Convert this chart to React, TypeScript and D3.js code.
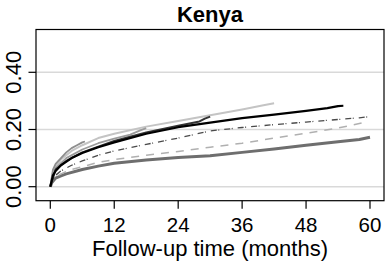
import React from 'react';
import * as d3 from 'd3';

// months since start of follow-up
const xTicks = [0, 12, 24, 36, 48, 60];
const yTicks = [0, 0.2, 0.4];
const yTickLabels = ['0.00', '0.20', '0.40'];

// cumulative incidence curves (month, value)
const lightGrayMonths = [0, 0.5, 1, 2, 4, 6, 9, 12, 18, 24, 30, 36, 40, 42];
const lightGrayValues = [0, 0.05, 0.07, 0.095, 0.125, 0.145, 0.17, 0.185, 0.21, 0.23, 0.25, 0.27, 0.285, 0.292];

const shortGrayMonths = [0, 0.5, 1, 2, 3, 4, 5, 6, 6.5];
const shortGrayValues = [0, 0.06, 0.08, 0.1, 0.12, 0.135, 0.145, 0.155, 0.158];

const midGrayMonths = [0, 1, 3, 6, 9, 12, 15, 17, 18];
const midGrayValues = [0, 0.065, 0.1, 0.13, 0.152, 0.168, 0.182, 0.198, 0.205];

const darkMonths = [0, 1, 3, 6, 12, 18, 24, 28, 29, 30];
const darkValues = [0, 0.06, 0.09, 0.12, 0.16, 0.19, 0.213, 0.228, 0.238, 0.245];

const blackMonths = [0, 0.5, 1, 2, 4, 6, 9, 12, 18, 24, 30, 36, 42, 48, 52, 54, 55];
const blackValues = [0, 0.04, 0.055, 0.075, 0.1, 0.118, 0.138, 0.155, 0.185, 0.208, 0.224, 0.24, 0.252, 0.265, 0.275, 0.282, 0.283];

const dotDashMonths = [0, 0.5, 1, 2, 4, 6, 9, 12, 18, 24, 30, 36, 42, 48, 54, 58, 60];
const dotDashValues = [0, 0.03, 0.04, 0.055, 0.075, 0.09, 0.11, 0.125, 0.148, 0.17, 0.195, 0.207, 0.217, 0.226, 0.235, 0.241, 0.245];

const dashedMonths = [0, 0.5, 1, 2, 4, 6, 9, 12, 18, 24, 30, 36, 42, 48, 54, 58.5];
const dashedValues = [0, 0.025, 0.035, 0.045, 0.06, 0.07, 0.085, 0.095, 0.11, 0.123, 0.138, 0.152, 0.17, 0.187, 0.205, 0.223];

const bottomMonths = [0, 0.3, 1, 2, 3, 6, 9, 12, 18, 24, 30, 36, 42, 48, 54, 58, 60];
const bottomValues = [0, 0.015, 0.03, 0.038, 0.045, 0.06, 0.072, 0.082, 0.093, 0.102, 0.108, 0.12, 0.132, 0.145, 0.157, 0.165, 0.173];

const series = [
  { months: bottomMonths, values: bottomValues, color: '#6e6e6e', width: 3, dash: null },
  { months: dashedMonths, values: dashedValues, color: '#b0b0b0', width: 1.5, dash: '8,7' },
  { months: dotDashMonths, values: dotDashValues, color: '#4a4a4a', width: 1.3, dash: '6,1.5,1,5' },
  { months: lightGrayMonths, values: lightGrayValues, color: '#c4c4c4', width: 2, dash: null },
  { months: midGrayMonths, values: midGrayValues, color: '#9a9a9a', width: 1.8, dash: null },
  { months: shortGrayMonths, values: shortGrayValues, color: '#8e8e8e', width: 1.8, dash: null },
  { months: darkMonths, values: darkValues, color: '#333333', width: 2, dash: null },
  { months: blackMonths, values: blackValues, color: '#000000', width: 2.2, dash: null },
];

const W = 387;
const H = 262;
const box = { left: 36, right: 384, top: 29.5, bottom: 200.7 };
const font = '"Liberation Sans", Arial, Helvetica, sans-serif';

export default function App() {
  const x = d3.scaleLinear().domain([0, 60]).range([50.3, 370]);
  const y = d3.scaleLinear().domain([0, 0.4]).range([186.7, 72.3]);

  const line = d3.line<[number, number]>()
    .x(d => x(d[0]))
    .y(d => y(d[1]));

  return (
    <svg width={W} height={H} style={{ position: 'fixed', left: 0, top: 0, background: '#fff' }} fontFamily={font}>
      {/* grid */}
      {yTicks.map(t => (
        <line key={'g' + t} x1={box.left} x2={box.right} y1={y(t)} y2={y(t)} stroke="#d9d9d9" strokeWidth={1.5} />
      ))}

      {/* curves */}
      {series.map((s, i) => (
        <path
          key={i}
          d={line(s.months.map((m, j) => [m, s.values[j]]) as [number, number][]) || ''}
          fill="none"
          stroke={s.color}
          strokeWidth={s.width}
          strokeDasharray={s.dash || undefined}
          strokeLinejoin="round"
        />
      ))}

      {/* box */}
      <rect x={box.left} y={box.top} width={box.right - box.left} height={box.bottom - box.top}
        fill="none" stroke="#000" strokeWidth={1.2} />

      {/* x axis */}
      {xTicks.map(t => (
        <g key={'x' + t}>
          <line x1={x(t)} x2={x(t)} y1={box.bottom} y2={box.bottom + 8} stroke="#000" strokeWidth={1.2} />
          <text x={x(t)} y={232} textAnchor="middle" fontSize={20.5}>{t}</text>
        </g>
      ))}

      {/* y axis */}
      {yTicks.map((t, i) => (
        <g key={'y' + t}>
          <line x1={box.left - 7.5} x2={box.left} y1={y(t)} y2={y(t)} stroke="#000" strokeWidth={1.2} />
          <text transform={`translate(20.5,${y(t)}) rotate(-90)`} textAnchor="middle" fontSize={22}>{yTickLabels[i]}</text>
        </g>
      ))}

      <text x={(box.left + box.right) / 2} y={22} textAnchor="middle" fontSize={22} fontWeight="bold">Kenya</text>
      <text x={(box.left + box.right) / 2} y={256} textAnchor="middle" fontSize={22}>Follow-up time (months)</text>
    </svg>
  );
}
